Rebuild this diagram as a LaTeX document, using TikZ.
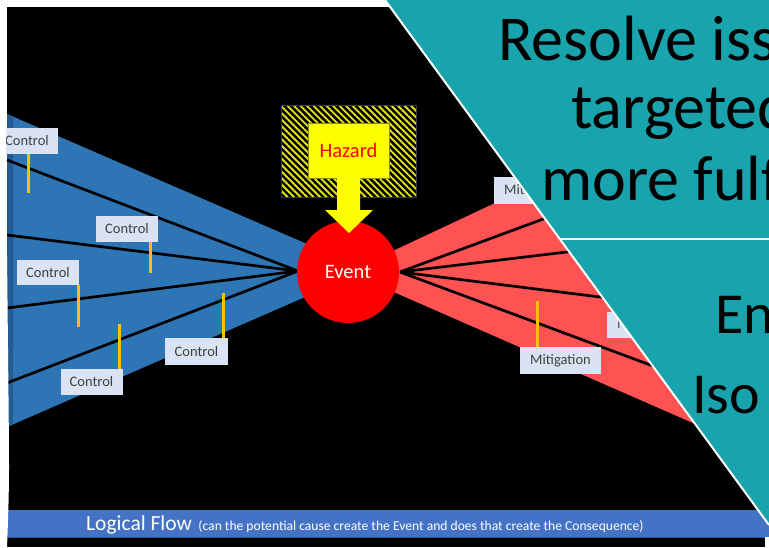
\documentclass[tikz,border=0pt]{standalone}
\usepackage{fontspec}
\setmainfont{Carlito}
\usetikzlibrary{patterns.meta}
\definecolor{tealbg}{RGB}{25,163,172}
\definecolor{fanblue}{RGB}{46,117,182}
\definecolor{fanblueD}{RGB}{36,92,146}
\definecolor{fanred}{RGB}{255,82,82}
\definecolor{lblfill}{RGB}{218,227,243}
\definecolor{lbltext}{RGB}{64,64,64}
\definecolor{gold}{RGB}{255,192,0}
\definecolor{barblue}{RGB}{68,114,196}
\definecolor{hazyellow}{RGB}{255,255,0}
\definecolor{hatchyellow}{RGB}{230,230,20}
\definecolor{hazborder}{RGB}{50,62,80}
\begin{document}
\begin{tikzpicture}[x=1pt,y=-1pt,
  lbl/.style={fill=lblfill, text=lbltext, font=\fontsize{14.5}{16}\selectfont, minimum width=62pt, minimum height=26pt, inner sep=0pt},
  mlbl/.style={lbl, minimum width=81pt},
  stem/.style={draw=gold, line width=3pt},
  fanline/.style={draw=black, line width=2.7pt},
  hatch/.style={preaction={fill=black}, pattern={Lines[angle=-45,distance=4.6pt,line width=1.9pt]}, pattern color=hatchyellow, draw=hazborder, line width=1pt},
  bigtext/.style={anchor=base west, text=black, inner sep=0pt, font=\fontsize{64}{70}\selectfont},
  midtext/.style={anchor=base west, text=black, inner sep=0pt, font=\fontsize{58}{64}\selectfont},
]
\useasboundingbox (0,0) rectangle (769,547);
\clip (0,0) rectangle (769,547);
\fill[white] (0,0) rectangle (769,547);
\fill[black] (7,7) rectangle (769,547);

% left (blue) fan
\fill[fanblue] (7,114) -- (367,270) -- (7,427) -- cycle;
\fill[fanblueD] (7,114) -- (13,116.6) -- (13,424.4) -- (7,427) -- cycle;
% right (red) fan
\fill[fanred] (348,272) -- (769,74.6) -- (769,456.3) -- cycle;

% named ends of the fan lines
\coordinate (evW) at (298,271);
\coordinate (evE) at (400,272);
\coordinate (L1) at (7,160);
\coordinate (L2) at (7,235);
\coordinate (L3) at (7,308);
\coordinate (L4) at (7,383);
\coordinate (R1) at (700,161);
\coordinate (R2) at (700,236);
\coordinate (R3) at (700,309.5);
\coordinate (R4) at (750,402);
\foreach \p in {L1,L2,L3,L4} \draw[fanline] (evW) -- (\p);
\foreach \p in {R1,R2,R3,R4} \draw[fanline] (evE) -- (\p);

% event
\node[circle, fill=red, minimum size=102pt, inner sep=0pt, text=white, font=\fontsize{20.5}{24}\selectfont] (ev) at (348,272) {Event};

% hazard
\node[hatch, minimum width=135pt, minimum height=92pt, inner sep=0pt] (hzbox) at (348.5,151) {};
\node[fill=hazyellow, draw=hatchyellow!60!black, line width=0.6pt, minimum width=81pt, minimum height=55pt, inner sep=0pt, text=red, font=\fontsize{20.5}{24}\selectfont] (hz) at (348.5,150.5) {Hazard};
\fill[hazyellow] (337,178) -- (360,178) -- (360,210) -- (373,210) -- (349,233) -- (325,210) -- (337,210) -- cycle;

% controls
\node[lbl] (c1) at (27,140.5) {Control};
\node[lbl] (c2) at (127,229) {Control};
\node[lbl, minimum height=25pt] (c3) at (48,272.5) {Control};
\node[lbl] (c4) at (91.5,382) {Control};
\node[lbl, minimum width=63pt, minimum height=27pt] (c5) at (196.5,351.5) {Control};
\draw[stem] ([xshift=1pt]c1.south) -- ++(0,39);
\draw[stem] ([xshift=23pt]c2.south) -- ++(0,31);
\draw[stem] ([xshift=30pt]c3.south) -- ++(0,42);
\draw[stem] ([xshift=27.5pt]c4.north) -- ++(0,-45);
\draw[stem] ([xshift=26.5pt]c5.north) -- ++(0,-45);

% mitigations
\node[mlbl, minimum height=27pt] (m1) at (534.5,190.5) {Mitigation};
\node[mlbl] (m2) at (647.5,325) {Mitigation};
\node[mlbl, minimum height=27pt] (m3) at (560.5,360.5) {Mitigation};
\draw[stem] ([xshift=-23.5pt]m3.north) -- ++(0,-46);

% logical flow bar
\fill[barblue] (7,510) rectangle (769,537);
\draw[barblue!75!black, line width=0.8pt] (7,537) -- (769,537);
\node[anchor=base west, inner sep=0pt, text=white, font=\fontsize{21.5}{24}\selectfont] (lf) at (86,530) {Logical Flow};
\node[anchor=base west, inner sep=0pt, text=white, font=\fontsize{13.6}{15}\selectfont] (lfn) at ([xshift=6pt]lf.base east) {(can the potential cause create the Event and does that create the Consequence)};
\fill[white] (765,537) rectangle (769,547);

% teal overlay
\fill[tealbg] (385,0) -- (769,0) -- (769,525) -- cycle;
\draw[white, line width=2pt] (385,0) -- (769,525);
\draw[white, line width=1.5pt] (559.8,239) -- (769,239);
\node[bigtext] (t1) at (498,60) {Resolve iss};
\node[bigtext] (t2) at (571,128) {targeted};
\node[bigtext] (t3) at (541,200) {more fulf};
\node[midtext] (t4) at (715,333) {En};
\node[midtext] (t5) at (692,413) {Iso};

% left white edge
\fill[white] (0,0) -- plot[smooth] coordinates {(7,0) (6,150) (7.5,300) (9,470) (7,547)} -- (0,547) -- cycle;
\end{tikzpicture}
\end{document}
